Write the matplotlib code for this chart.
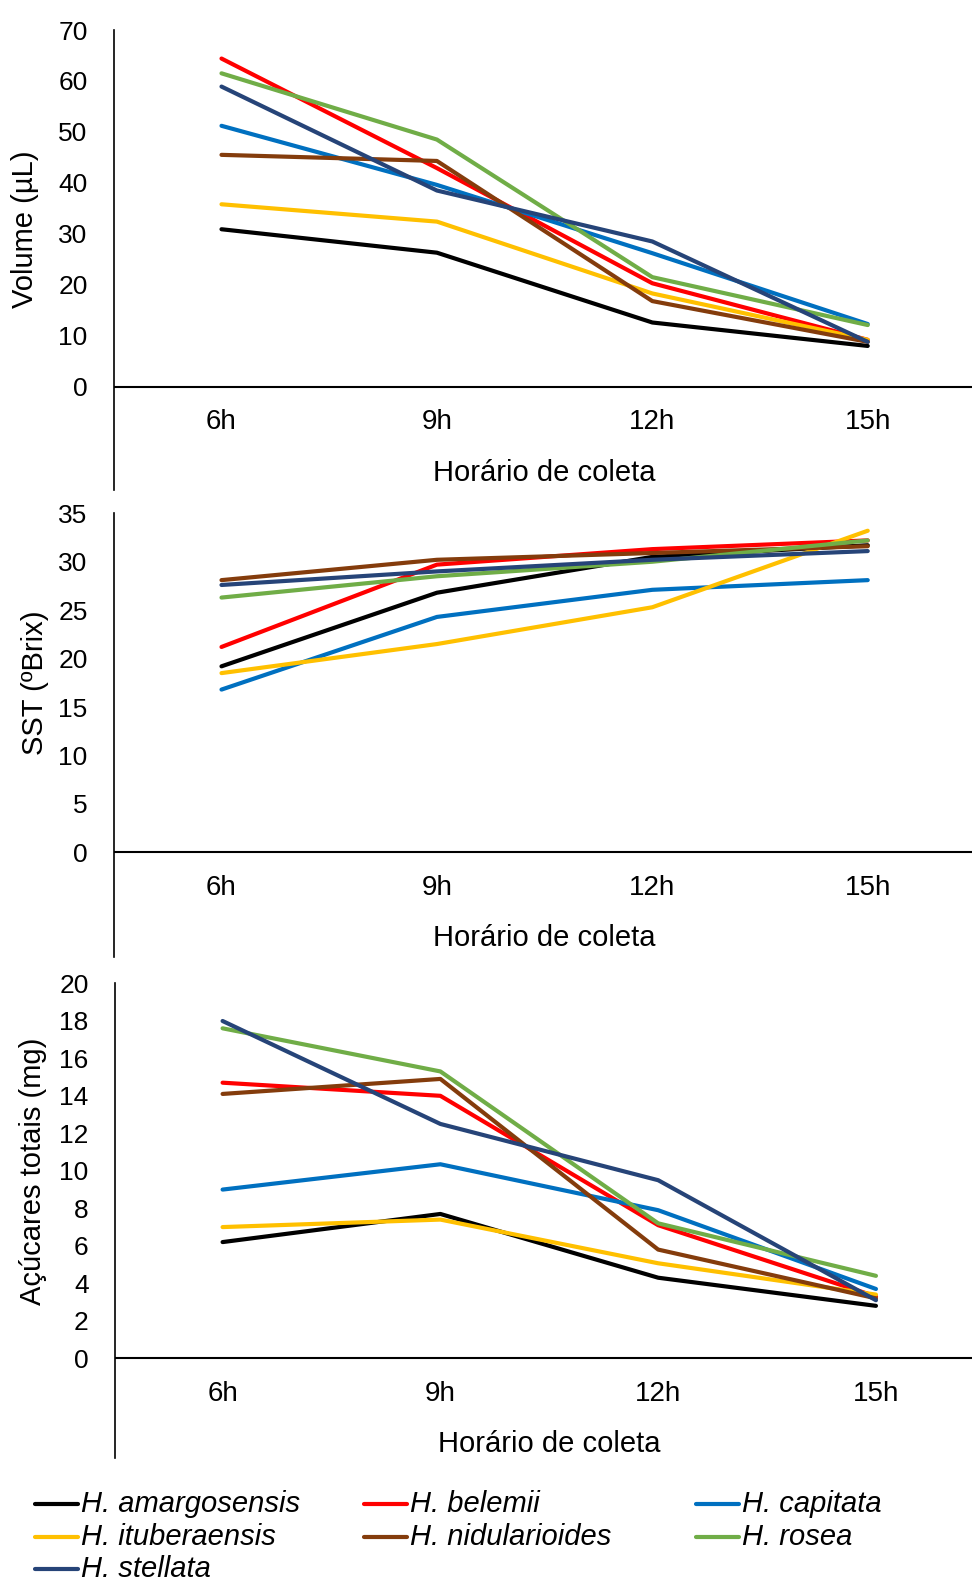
import matplotlib
matplotlib.use("Agg")
import matplotlib.pyplot as plt
from matplotlib.lines import Line2D

plt.rcParams['font.family'] = ['Liberation Sans', 'DejaVu Sans']

# data
horarios = ["6h", "9h", "12h", "15h"]
especies = ["H. amargosensis", "H. belemii", "H. capitata", "H. ituberaensis",
            "H. nidularioides", "H. rosea", "H. stellata"]
cores = ["#000000", "#FF0000", "#0070C0", "#FFC000", "#843C0C", "#70AD47", "#264478"]

volume = [
    [30.9, 26.3, 12.6, 8.0],
    [64.4, 42.9, 20.3, 9.2],
    [51.2, 39.6, 26.2, 12.3],
    [35.8, 32.4, 18.3, 9.2],
    [45.5, 44.3, 16.8, 8.8],
    [61.5, 48.5, 21.5, 12.1],
    [58.9, 38.5, 28.5, 8.8],
]
sst = [
    [19.2, 26.8, 30.5, 31.7],
    [21.2, 29.7, 31.3, 32.2],
    [16.8, 24.3, 27.1, 28.1],
    [18.5, 21.5, 25.3, 33.2],
    [28.1, 30.2, 30.9, 31.6],
    [26.3, 28.5, 30.0, 32.2],
    [27.6, 29.0, 30.2, 31.1],
]
acucares = [
    [6.2, 7.7, 4.3, 2.8],
    [14.7, 14.0, 7.1, 3.3],
    [9.0, 10.35, 7.9, 3.7],
    [7.0, 7.4, 5.07, 3.4],
    [14.1, 14.9, 5.8, 3.2],
    [17.6, 15.3, 7.2, 4.4],
    [17.99, 12.5, 9.5, 3.1],
]

W, H = 972, 1586
fig = plt.figure(figsize=(W / 100, H / 100), dpi=100)


def make_ax(left, top, bottom, right):
    return fig.add_axes([left / W, 1 - bottom / H, (right - left) / W, (bottom - top) / H])


paineis = [
    # (dados, ylabel, ymin, ymax, passo, caixa, xlim, posicao do ylabel)
    (volume, "Volume (µL)", -20.27, 70, 10, (114, 30, 490, 972), (-0.499, 3.484), (25, 229)),
    (sst, "SST (ºBrix)", -10.78, 35, 5, (114, 513.3, 956.7, 972), (-0.499, 3.484), (35, 683)),
    (acucares, "Açúcares totais (mg)", -5.33, 20, 2, (115, 983.3, 1458.3, 972), (-0.494, 3.441), (33, 1171)),
]

for dados, ylab, ymin, ymax, passo, caixa, xl, ylpos in paineis:
    ax = make_ax(*caixa)
    for serie, cor in zip(dados, cores):
        ax.plot(range(len(horarios)), serie, color=cor, lw=3.0, solid_capstyle='round')
    ax.set_ylim(ymin, ymax)
    ax.set_xlim(*xl)
    ax.set_yticks(range(0, ymax + 1, passo))
    ax.set_xticks([])
    ax.tick_params(axis='y', length=0, pad=19, labelsize=19)
    for s in ['top', 'right', 'bottom']:
        ax.spines[s].set_visible(False)
    ax.spines['left'].set_linewidth(1.2)
    ax.axhline(0, color='black', lw=1.5, zorder=0)
    for i, h in enumerate(horarios):
        ax.annotate(h, (i, 0), xytext=(0, -25.5), textcoords='offset points',
                    ha='center', va='center', fontsize=20)
    ax.annotate("Horário de coleta", (1.5, 0), xytext=(0, -62), textcoords='offset points',
                ha='center', va='center', fontsize=21)
    fig.text(ylpos[0] / W, 1 - ylpos[1] / H, ylab, rotation=90, ha='center', va='center',
             fontsize=21)

# legenda manual, preenchida por linhas
col_x = [35, 364, 696]
row_y = [1504, 1537, 1569]
for k, (nome, cor) in enumerate(zip(especies, cores)):
    r, c = divmod(k, 3)
    x0 = col_x[c]
    y0 = row_y[r]
    fig.add_artist(Line2D([x0 / W, (x0 + 43) / W], [1 - y0 / H, 1 - y0 / H],
                          color=cor, lw=3.0, solid_capstyle='round'))
    fig.text((x0 + 46) / W, 1 - y0 / H, nome, ha='left', va='center',
             fontsize=21, style='italic')

fig.savefig("out.png", dpi=100)
